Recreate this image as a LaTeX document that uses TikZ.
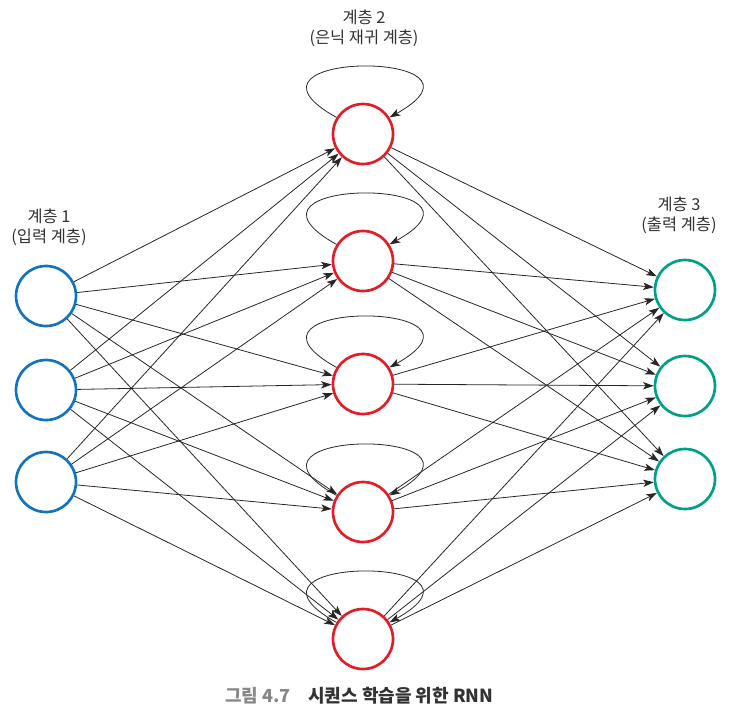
\documentclass[tikz,border=0pt]{standalone}
\usepackage{fontspec}
\setmainfont{Noto Sans CJK KR}
\usetikzlibrary{arrows.meta}

\definecolor{inblue}{RGB}{20,115,190}
\definecolor{hidred}{RGB}{225,30,40}
\definecolor{outteal}{RGB}{0,160,135}
\definecolor{labelgray}{RGB}{50,50,50}
\definecolor{capgray}{RGB}{135,135,135}

\tikzset{
    neuron/.style={circle, draw, line width=2pt, minimum size=45pt, inner sep=0pt},
    inneuron/.style={neuron, draw=inblue},
    hidneuron/.style={neuron, draw=hidred},
    outneuron/.style={neuron, draw=outteal},
    edge/.style={-{Stealth[length=8pt, width=5.5pt, inset=2pt]}, line width=0.6pt, black!85},
    layerlabel/.style={align=center, text=labelgray, font=\fontsize{12.3}{15}\selectfont},
    caption/.style={inner sep=0pt, font=\fontsize{13.5}{16}\selectfont\bfseries}
}

\begin{document}
\begin{tikzpicture}[x=0.75pt, y=-0.75pt]
    \useasboundingbox (0,0) rectangle (732,715);

    % neurons of the three layers
    \foreach \y [count=\i] in {296,390,482}
        \node[inneuron] (in\i) at (46,\y) {};
    \foreach \y [count=\i] in {134,261,384,512,639}
        \node[hidneuron] (hid\i) at (363,\y) {};
    \foreach \y [count=\i] in {290,386,479}
        \node[outneuron] (out\i) at (685,\y) {};

    % full connections
    \foreach \i in {1,2,3}
        \foreach \j in {1,...,5}
            \draw[edge] (in\i) -- (hid\j);
    \foreach \j in {1,...,5}
        \foreach \k in {1,2,3}
            \draw[edge] (hid\j) -- (out\k);

    % recurrent self loops
    \foreach \j in {1,...,5}
        \draw[edge] (hid\j.148) .. controls +(-122,-68) and +(122,-68) .. (hid\j.32);

    % layer titles
    \node[layerlabel] (lab1) at (49,227) {계층 1\\(입력 계층)};
    \node[layerlabel] (lab2) at (364,28) {계층 2\\(은닉 재귀 계층)};
    \node[layerlabel] (lab3) at (679,215) {계층 3\\(출력 계층)};

    % caption
    \node[caption, anchor=east, text=capgray] (capnum) at (291,696) {그림 4.7};
    \node[caption, anchor=west, text=labelgray] (captext) at (308,696) {시퀀스 학습을 위한 RNN};
\end{tikzpicture}
\end{document}
